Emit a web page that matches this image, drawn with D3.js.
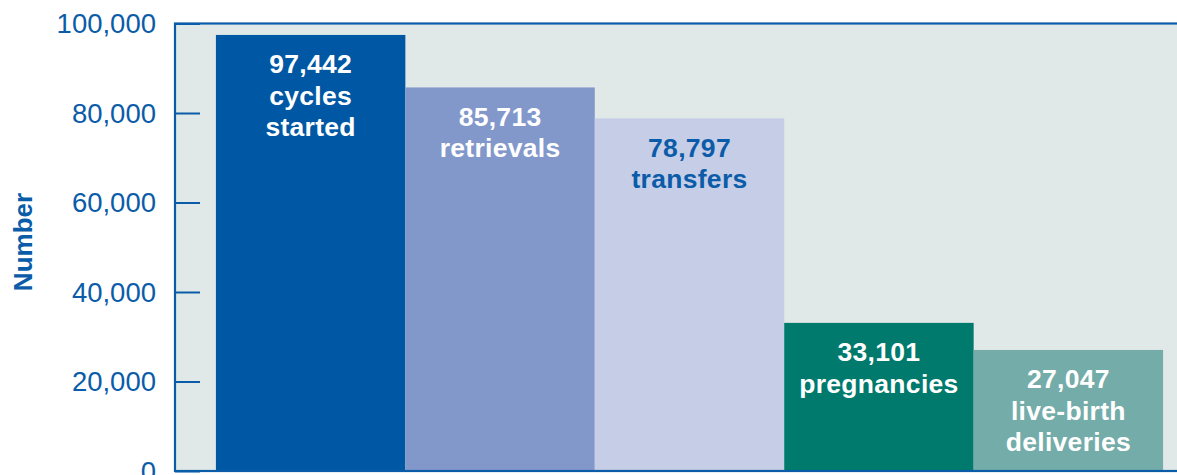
<!DOCTYPE html>
<html>
<head>
<meta charset="utf-8">
<script src="https://cdn.jsdelivr.net/npm/d3@7"></script>
<style>
    body { margin: 0; background: #ffffff; overflow: hidden; }
    text { font-family: "Liberation Sans", Arial, Helvetica, sans-serif; }
</style>
</head>
<body>
<svg id="chart"></svg>
<script>
// chart data
var categories = ["cycles started", "retrievals", "transfers", "pregnancies", "live-birth deliveries"];
var values = [97442, 85713, 78797, 33101, 27047];
var labelLines = [
    ["97,442", "cycles", "started"],
    ["85,713", "retrievals"],
    ["78,797", "transfers"],
    ["33,101", "pregnancies"],
    ["27,047", "live-birth", "deliveries"]
];
var yTicks = [0, 20000, 40000, 60000, 80000, 100000];

var barColors = ["#0057a4", "#8298cb", "#c6cde7", "#007a6d", "#74aca9"];
var textColors = ["#ffffff", "#ffffff", "#0b5ca8", "#ffffff", "#ffffff"];
var blue = "#0b5ca8";

var width = 1177, height = 475;
var margin = { left: 175, right: -27, top: 23.5, bottom: 4 };

var svg = d3.select("#chart")
    .attr("width", width)
    .attr("height", height);

var plotW = width - margin.left - margin.right;
var plotH = height - margin.top - margin.bottom;

var x = d3.scaleBand()
    .domain(categories)
    .range([0, plotW])
    .paddingInner(0)
    .paddingOuter(0.216);

var y = d3.scaleLinear()
    .domain([0, 100000])
    .range([plotH, 0]);

var g = svg.append("g")
    .attr("transform", "translate(" + margin.left + "," + margin.top + ")");

// plot background
g.append("rect")
    .attr("x", 0)
    .attr("y", 0)
    .attr("width", plotW)
    .attr("height", plotH)
    .style("fill", "#e0e9e8");

// bars
g.selectAll(".bar")
    .data(values)
    .enter()
    .append("rect")
    .attr("class", "bar")
    .attr("x", (d, i) => x(categories[i]))
    .attr("y", d => y(d))
    .attr("width", x.bandwidth())
    .attr("height", d => y(0) - y(d))
    .style("fill", (d, i) => barColors[i]);

// bar labels
g.selectAll(".bar-label")
    .data(values)
    .enter()
    .append("text")
    .attr("class", "bar-label")
    .attr("text-anchor", "middle")
    .style("font-size", "26.5px")
    .style("font-weight", "bold")
    .style("letter-spacing", "0.3px")
    .style("fill", (d, i) => textColors[i])
    .each(function(d, i) {
        var t = d3.select(this);
        labelLines[i].forEach((line, j) => {
            t.append("tspan")
                .attr("x", x(categories[i]) + x.bandwidth() / 2)
                .attr("y", y(d) + 38.5 + j * 31.5)
                .text(line);
        });
    });

// y axis ticks (inward) and labels
var yAxis = g.append("g")
    .attr("class", "axis axis--y")
    .call(d3.axisRight(y)
        .tickValues(yTicks)
        .tickSize(25)
        .tickFormat(""));
yAxis.select(".domain").remove();
yAxis.selectAll(".tick line")
    .style("stroke", blue)
    .style("stroke-width", 2);

g.selectAll(".tick-label")
    .data(yTicks)
    .enter()
    .append("text")
    .attr("class", "tick-label")
    .attr("x", -19)
    .attr("y", d => y(d))
    .attr("dy", "0.36em")
    .attr("text-anchor", "end")
    .style("font-size", "27.5px")
    .style("fill", blue)
    .text(d => d3.format(",")(d));

// frame
g.append("rect")
    .attr("x", 0)
    .attr("y", 0)
    .attr("width", plotW)
    .attr("height", plotH)
    .style("fill", "none")
    .style("stroke", blue)
    .style("stroke-width", 2.2);

// y axis title
svg.append("text")
    .attr("transform", "translate(31.5," + 242 + ") rotate(-90)")
    .attr("text-anchor", "middle")
    .style("font-size", "26px")
    .style("font-weight", "bold")
    .style("fill", blue)
    .text("Number");
</script>
</body>
</html>
